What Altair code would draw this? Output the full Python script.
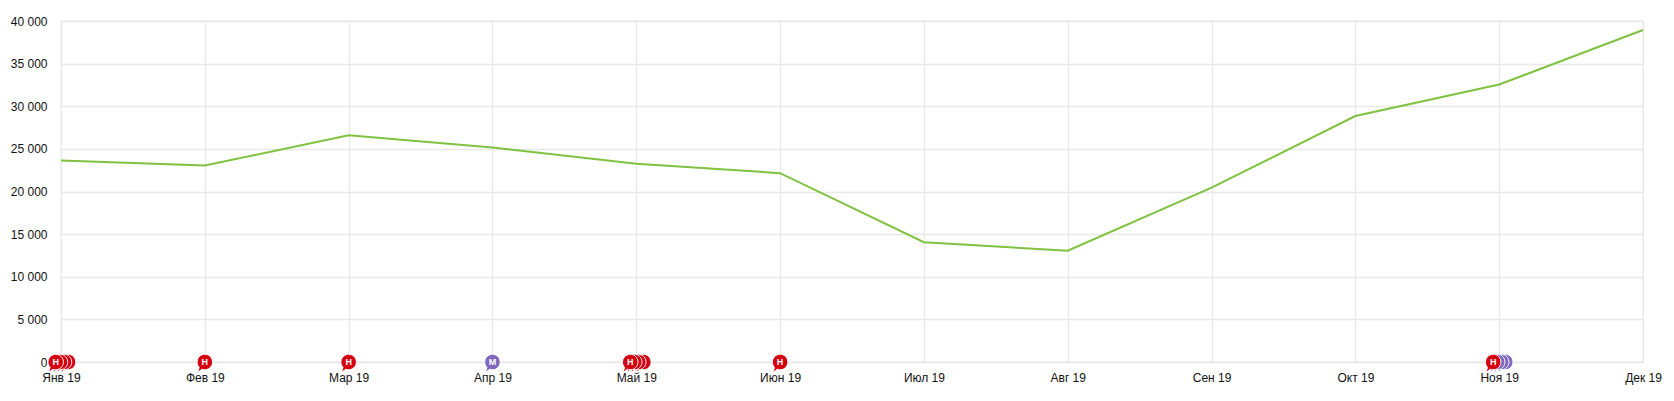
import altair as alt
import pandas as pd

months = ['Янв 19', 'Фев 19', 'Мар 19', 'Апр 19', 'Май 19', 'Июн 19',
          'Июл 19', 'Авг 19', 'Сен 19', 'Окт 19', 'Ноя 19', 'Дек 19']
month_idx = list(range(12))
values = [23650, 23050, 26600, 25150, 23250, 22150,
          14050, 13050, 20450, 28850, 32550, 38950]

# events sitting on the zero line, rear ones first so the front one is on top
event_x = [0.049, 0.021, -0.007, -0.037, 1.0, 2.0, 3.0,
           4.049, 4.014, 3.986, 3.958, 5.0,
           10.042, 10.014, 9.986, 9.958]
event_kind = ['red', 'red', 'red', 'red', 'red', 'red', 'purple',
              'red', 'red', 'red', 'red', 'red',
              'purple', 'purple', 'purple', 'red']
event_label = ['', '', '', 'Н', 'Н', 'Н', 'М',
               '', '', '', 'Н', 'Н',
               '', '', '', 'Н']
event_y = [0] * len(event_x)

FONT = 'Liberation Sans'
BUBBLE = 'M-1,0 A1,1 0 1 1 -0.35,0.94 L-0.95,1.35 L-0.72,0.7 A1,1 0 0 1 -1,0 Z'

df = pd.DataFrame({'idx': month_idx, 'value': values})
events = pd.DataFrame({'x': event_x, 'y': event_y, 'kind': event_kind, 'label': event_label})

x_scale = alt.Scale(domain=[0, 11], nice=False, zero=False)
y_scale = alt.Scale(domain=[0, 40000], nice=False)

month_js = '[' + ','.join("'%s'" % m for m in months) + ']'

line = alt.Chart(df).mark_line(color='#7fc241', strokeWidth=2, clip=False).encode(
    x=alt.X('idx:Q', scale=x_scale, title=None,
            axis=alt.Axis(values=month_idx, labelExpr=month_js + '[datum.value]',
                          grid=True, gridColor='#e8e8e8', gridWidth=1.3,
                          domain=False, ticks=False, labelPadding=10,
                          labelFont=FONT, labelFontSize=12, labelColor='#111',
                          labelFlush=False, labelOverlap=False)),
    y=alt.Y('value:Q', scale=y_scale, title=None,
            axis=alt.Axis(values=[0, 5000, 10000, 15000, 20000, 25000, 30000, 35000, 40000],
                          labelExpr="replace(format(datum.value, ','), ',', ' ')",
                          grid=True, gridColor='#e8e8e8', gridWidth=1.3,
                          domain=False, ticks=False, labelPadding=14,
                          labelFont=FONT, labelFontSize=12, labelColor='#111')),
)

bubbles = alt.Chart(events).mark_point(
    shape=BUBBLE, filled=True, size=240, opacity=1, stroke='white', strokeWidth=1, clip=False
).encode(
    x=alt.X('x:Q', scale=x_scale),
    y=alt.Y('y:Q', scale=y_scale),
    fill=alt.Fill('kind:N', scale=alt.Scale(domain=['red', 'purple'], range=['#d40010', '#7f67bd']), legend=None),
    order=alt.Order('rank:Q'),
).transform_window(rank='row_number()')

letters = alt.Chart(events).transform_filter("datum.label != ''").mark_text(
    font=FONT, fontSize=9, fontWeight='bold', color='white', baseline='middle', align='center', clip=False
).encode(
    x=alt.X('x:Q', scale=x_scale),
    y=alt.Y('y:Q', scale=y_scale),
    text='label:N',
)

chart = (line + bubbles + letters).properties(
    width=1582, height=341,
    padding={'left': 53, 'top': 13, 'right': 20, 'bottom': 30},
    autosize=alt.AutoSizeParams(type='none'),
).configure_view(stroke='#e8e8e8', strokeWidth=1.3)

chart.save("out.html", embed_options={"renderer": "svg", "actions": False})
